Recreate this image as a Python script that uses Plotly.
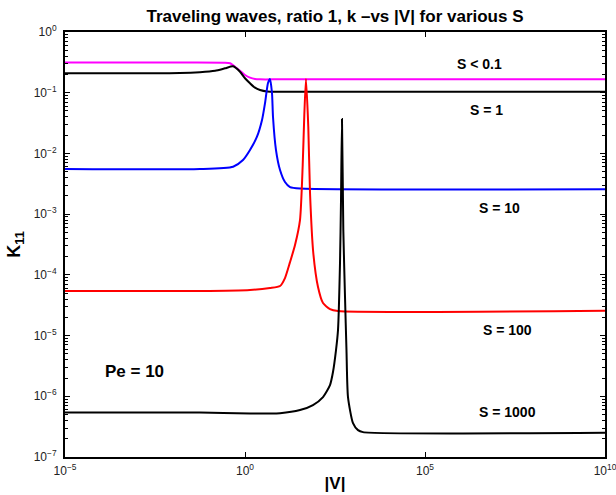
import plotly.graph_objects as go

# ---- data ----
v_s01 = [1e-5, 1e-2, 0.278, 0.383, 0.527, 0.726, 1.0, 1.377, 1.896, 2.61, 10, 1e10]
k_s01 = [0.315, 0.314, 0.312, 0.305, 0.268, 0.230, 0.196, 0.177, 0.168, 0.166, 0.166, 0.166]

v_s1 = [1e-5, 2.3e-3, 1.55e-2, 5.6e-2, 0.148, 0.278, 0.468, 0.726, 1.0, 1.377, 1.896, 2.61, 4.1, 9.4, 1e10]
k_s1 = [0.209, 0.209, 0.211, 0.218, 0.230, 0.252, 0.272, 0.222, 0.173, 0.143, 0.121, 0.111, 0.105, 0.104, 0.104]

v_s10 = [1e-5, 5.6e-2, 0.468, 0.88, 1.377, 2.15, 2.97, 3.6, 4.35, 4.94, 5.62, 6.0, 7.26, 9.4, 12.9, 17.8, 33.7, 1e10]
k_s10 = [5.53e-3, 5.53e-3, 6.04e-3, 7.78e-3, 1.138e-2, 1.884e-2, 3.55e-2, 6.76e-2, 0.1445, 0.168, 0.0989, 0.0398,
         1.138e-2, 5.33e-3, 3.38e-3, 2.79e-3, 2.64e-3, 2.56e-3]

v_s100 = [1e-5, 5.6e-2, 1.377, 4.94, 9.4, 12.9, 17.8, 24.5, 33.7, 40.1, 44.4, 49.4, 57.3, 64.0, 78.9, 106.7, 146.9, 229.6, 382.8, 1e10]
k_s100 = [5.41e-5, 5.41e-5, 5.62e-5, 6.07e-5, 6.54e-5, 8.85e-5, 1.62e-4, 3.10e-4, 8.0e-4, 6.44e-3, 4.29e-2, 0.168,
          2.72e-2, 2.23e-3, 2.29e-4, 6.3e-5, 3.43e-5, 2.73e-5, 2.53e-5, 2.56e-5]

v_s1000 = [1e-5, 5.6e-2, 1.377, 9.4, 33.7, 77.4, 146.9, 229.6, 278.0, 337.3, 383.0, 435.5, 464.5, 494.3, 538.3, 600.0,
           659.0, 726.0, 1000, 1377, 1897, 1e10]
k_s1000 = [5.39e-7, 5.39e-7, 5.19e-7, 5.28e-7, 5.93e-7, 7.17e-7, 9.7e-7, 1.53e-6, 2.51e-6, 5.77e-6, 1.23e-5, 1.56e-4,
           1.71e-3, 3.69e-2, 5.47e-4, 4.31e-5, 5.77e-6, 9.7e-7, 3.61e-7, 2.77e-7, 2.57e-7, 2.51e-7]

x_ticks = [1e-5, 1e0, 1e5, 1e10]
x_ticktext = ["10<sup>−5</sup>", "10<sup>0</sup>", "10<sup>5</sup>", "10<sup>10</sup>"]
y_ticks = [1e-7, 1e-6, 1e-5, 1e-4, 1e-3, 1e-2, 1e-1, 1e0]
y_ticktext = ["10<sup>−7</sup>", "10<sup>−6</sup>", "10<sup>−5</sup>", "10<sup>−4</sup>",
              "10<sup>−3</sup>", "10<sup>−2</sup>", "10<sup>−1</sup>", "10<sup>0</sup>"]

series = [
    ("S < 0.1", v_s01, k_s01, "#ff00ff"),
    ("S = 1", v_s1, k_s1, "#000000"),
    ("S = 10", v_s10, k_s10, "#0000ff"),
    ("S = 100", v_s100, k_s100, "#ff0000"),
    ("S = 1000", v_s1000, k_s1000, "#000000"),
]

FONT = "Liberation Sans, Arial, sans-serif"

fig = go.Figure()
for name, v, k, c in series:
    fig.add_trace(go.Scatter(x=v, y=k, mode="lines", name=name,
                             line=dict(color=c, width=2, shape="spline", smoothing=0.6),
                             showlegend=False))

labels = [
    ("S < 0.1", 0.767, 0.925, 14),
    ("S = 1", 0.780, 0.816, 14),
    ("S = 10", 0.804, 0.586, 14),
    ("S = 100", 0.820, 0.299, 14),
    ("S = 1000", 0.820, 0.106, 14),
    ("Pe = 10", 0.128, 0.202, 17),
]
for txt, xp, yp, fs in labels:
    fig.add_annotation(text="<b>%s</b>" % txt, x=xp, y=yp, xref="paper", yref="paper",
                       showarrow=False, font=dict(family=FONT, size=fs, color="black"),
                       xanchor="center", yanchor="middle")

axis_common = dict(
    type="log", showgrid=False, zeroline=False, automargin=False,
    showline=True, linecolor="black", linewidth=2, mirror="ticks",
    ticks="inside", ticklen=5, tickcolor="black", tickwidth=1,
    ticklabeloverflow="allow",
    tickfont=dict(family=FONT, size=12, color="#222222"),
)

fig.update_layout(
    width=616, height=495,
    margin=dict(l=65, r=11, t=32, b=38),
    paper_bgcolor="white", plot_bgcolor="white",
    title=dict(text="<b>Traveling waves, ratio 1, k –vs |V| for various S</b>",
               x=0.5, xref="paper", xanchor="center", y=0.968, yanchor="middle",
               font=dict(family=FONT, size=17, color="black")),
    xaxis=dict(range=[-5, 10], tickvals=x_ticks, ticktext=x_ticktext, ticklabelstandoff=2,
               title=dict(text="<b>|V|</b>", font=dict(family=FONT, size=17, color="black"), standoff=0),
               **axis_common),
    yaxis=dict(range=[-7, 0], tickvals=y_ticks, ticktext=y_ticktext, ticklabelstandoff=4,
               title=dict(text="<b>K<sub>11</sub></b>", font=dict(family=FONT, size=18, color="black"), standoff=8),
               minor=dict(ticks="inside", ticklen=3, tickcolor="black", dtick="D1", showgrid=False),
               **axis_common),
)

fig.write_html("out.html")
